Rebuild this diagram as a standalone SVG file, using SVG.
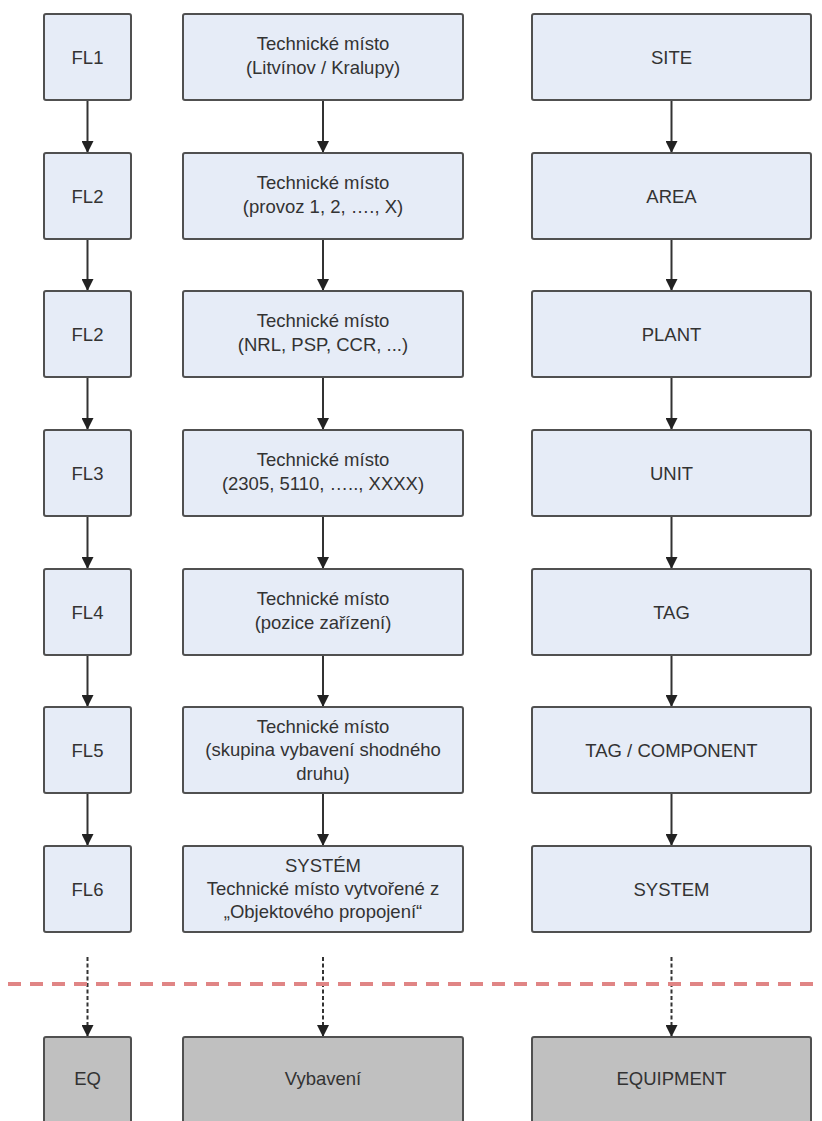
<svg xmlns="http://www.w3.org/2000/svg" width="822" height="1121" viewBox="0 0 822 1121">
<style>
.n{fill:#e6ecf7;stroke:#505050;stroke-width:2}
.g{fill:#c0c0c0;stroke:#505050;stroke-width:2}
text{font-family:"Liberation Sans",Arial,sans-serif;font-size:18.5px;fill:#333;text-anchor:middle}
.c{stroke:#333;stroke-width:2;fill:none}
.d{stroke:#333;stroke-width:2;fill:none;stroke-dasharray:4 2.5}
.sep{stroke:#e08585;stroke-width:4;stroke-dasharray:13 9;fill:none}
</style>
<defs>
<marker id="ah" viewBox="0 0 12 12" refX="12" refY="6" markerWidth="12" markerHeight="12" markerUnits="userSpaceOnUse" orient="auto">
<path d="M0,0 L12,6 L0,12 Z" fill="#222"/>
</marker>
</defs>
<rect width="822" height="1121" fill="#fff"/>
<g id="connectors">
<path class="c" d="M87.5,100 V153" marker-end="url(#ah)"/>
<path class="c" d="M87.5,239 V291" marker-end="url(#ah)"/>
<path class="c" d="M87.5,377 V430" marker-end="url(#ah)"/>
<path class="c" d="M87.5,516 V569" marker-end="url(#ah)"/>
<path class="c" d="M87.5,655 V707" marker-end="url(#ah)"/>
<path class="c" d="M87.5,793 V846" marker-end="url(#ah)"/>
<path class="c" d="M323,100 V153" marker-end="url(#ah)"/>
<path class="c" d="M323,239 V291" marker-end="url(#ah)"/>
<path class="c" d="M323,377 V430" marker-end="url(#ah)"/>
<path class="c" d="M323,516 V569" marker-end="url(#ah)"/>
<path class="c" d="M323,655 V707" marker-end="url(#ah)"/>
<path class="c" d="M323,793 V846" marker-end="url(#ah)"/>
<path class="c" d="M671.5,100 V153" marker-end="url(#ah)"/>
<path class="c" d="M671.5,239 V291" marker-end="url(#ah)"/>
<path class="c" d="M671.5,377 V430" marker-end="url(#ah)"/>
<path class="c" d="M671.5,516 V569" marker-end="url(#ah)"/>
<path class="c" d="M671.5,655 V707" marker-end="url(#ah)"/>
<path class="c" d="M671.5,793 V846" marker-end="url(#ah)"/>
<path class="d" d="M87.5,957 V1037" marker-end="url(#ah)"/>
<path class="d" d="M323,957 V1037" marker-end="url(#ah)"/>
<path class="d" d="M671.5,957 V1037" marker-end="url(#ah)"/>
</g>
<g id="fl1"><rect class="n" x="44" y="14" width="87" height="86" rx="2"/><text x="87.5" y="63.5">FL1</text></g>
<g id="fl2a"><rect class="n" x="44" y="153" width="87" height="86" rx="2"/><text x="87.5" y="202.5">FL2</text></g>
<g id="fl2b"><rect class="n" x="44" y="291" width="87" height="86" rx="2"/><text x="87.5" y="340.5">FL2</text></g>
<g id="fl3"><rect class="n" x="44" y="430" width="87" height="86" rx="2"/><text x="87.5" y="479.5">FL3</text></g>
<g id="fl4"><rect class="n" x="44" y="569" width="87" height="86" rx="2"/><text x="87.5" y="618.5">FL4</text></g>
<g id="fl5"><rect class="n" x="44" y="707" width="87" height="86" rx="2"/><text x="87.5" y="756.5">FL5</text></g>
<g id="fl6"><rect class="n" x="44" y="846" width="87" height="86" rx="2"/><text x="87.5" y="895.5">FL6</text></g>
<g id="eq"><rect class="g" x="44" y="1037" width="87" height="90" rx="2"/><text x="87.5" y="1085">EQ</text></g>

<g id="tm1"><rect class="n" x="183" y="14" width="280" height="86" rx="2"/><text x="323" y="50">Technické místo</text><text x="323" y="74">(Litvínov / Kralupy)</text></g>
<g id="tm2"><rect class="n" x="183" y="153" width="280" height="86" rx="2"/><text x="323" y="189">Technické místo</text><text x="323" y="213">(provoz 1, 2, …., X)</text></g>
<g id="tm3"><rect class="n" x="183" y="291" width="280" height="86" rx="2"/><text x="323" y="327">Technické místo</text><text x="323" y="351">(NRL, PSP, CCR, ...)</text></g>
<g id="tm4"><rect class="n" x="183" y="430" width="280" height="86" rx="2"/><text x="323" y="466">Technické místo</text><text x="323" y="490">(2305, 5110, ….., XXXX)</text></g>
<g id="tm5"><rect class="n" x="183" y="569" width="280" height="86" rx="2"/><text x="323" y="605">Technické místo</text><text x="323" y="629">(pozice zařízení)</text></g>
<g id="tm6"><rect class="n" x="183" y="707" width="280" height="86" rx="2"/><text x="323" y="733">Technické místo</text><text x="323" y="756">(skupina vybavení shodného</text><text x="323" y="780">druhu)</text></g>
<g id="tm7"><rect class="n" x="183" y="846" width="280" height="86" rx="2"/><text x="323" y="872">SYSTÉM</text><text x="323" y="895">Technické místo vytvořené z</text><text x="323" y="918">„Objektového propojení“</text></g>
<g id="vyb"><rect class="g" x="183" y="1037" width="280" height="90" rx="2"/><text x="323" y="1085">Vybavení</text></g>

<g id="site"><rect class="n" x="532" y="14" width="279" height="86" rx="2"/><text x="671.5" y="63.5">SITE</text></g>
<g id="area"><rect class="n" x="532" y="153" width="279" height="86" rx="2"/><text x="671.5" y="202.5">AREA</text></g>
<g id="plant"><rect class="n" x="532" y="291" width="279" height="86" rx="2"/><text x="671.5" y="340.5">PLANT</text></g>
<g id="unit"><rect class="n" x="532" y="430" width="279" height="86" rx="2"/><text x="671.5" y="479.5">UNIT</text></g>
<g id="tag"><rect class="n" x="532" y="569" width="279" height="86" rx="2"/><text x="671.5" y="618.5">TAG</text></g>
<g id="tagcomp"><rect class="n" x="532" y="707" width="279" height="86" rx="2"/><text x="671.5" y="756.5">TAG / COMPONENT</text></g>
<g id="system"><rect class="n" x="532" y="846" width="279" height="86" rx="2"/><text x="671.5" y="895.5">SYSTEM</text></g>
<g id="equip"><rect class="g" x="532" y="1037" width="279" height="90" rx="2"/><text x="671.5" y="1085">EQUIPMENT</text></g>

<line class="sep" x1="8" y1="984" x2="822" y2="984"/>
</svg>
